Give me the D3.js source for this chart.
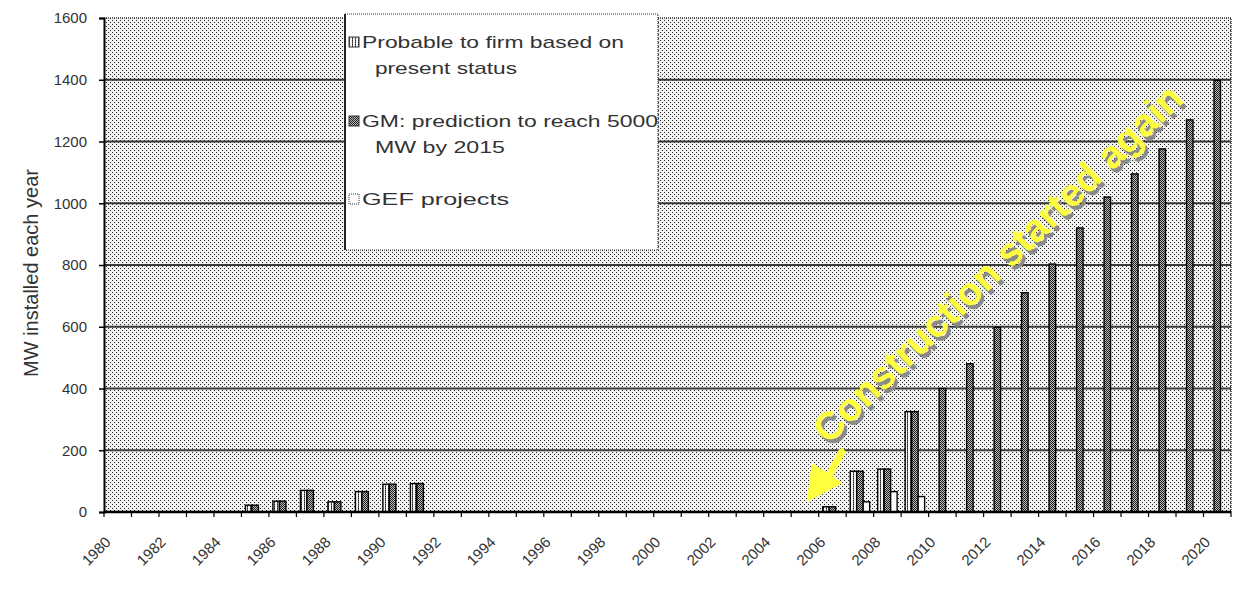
<!DOCTYPE html>
<html>
<head>
<meta charset="utf-8">
<script src="https://cdn.jsdelivr.net/npm/d3@7"></script>
<style>
  body { margin: 0; background: #fff; }
  svg { display: block; font-family: "Liberation Sans", Arial, sans-serif; }
</style>
</head>
<body>
<svg id="chart" width="1241" height="590"></svg>
<script>
// ---- data -------------------------------------------------------------
const years = [1980, 1981, 1982, 1983, 1984, 1985, 1986, 1987, 1988, 1989,
               1990, 1991, 1992, 1993, 1994, 1995, 1996, 1997, 1998, 1999,
               2000, 2001, 2002, 2003, 2004, 2005, 2006, 2007, 2008, 2009,
               2010, 2011, 2012, 2013, 2014, 2015, 2016, 2017, 2018, 2019, 2020];

// MW installed each year
const probable = [0, 0, 0, 0, 0, 22, 35, 70, 33, 66,
                  90, 92, 0, 0, 0, 0, 0, 0, 0, 0,
                  0, 0, 0, 0, 0, 0, 17, 132, 139, 325,
                  0, 0, 0, 0, 0, 0, 0, 0, 0, 0, 0];
const gmPrediction = [0, 0, 0, 0, 0, 22, 35, 70, 33, 66,
                      90, 92, 0, 0, 0, 0, 0, 0, 0, 0,
                      0, 0, 0, 0, 0, 0, 17, 132, 139, 325,
                      400, 480, 598, 710, 803, 920, 1020, 1095, 1176, 1270, 1398];
const gefProjects = [0, 0, 0, 0, 0, 0, 0, 0, 0, 0,
                     0, 0, 0, 0, 0, 0, 0, 0, 0, 0,
                     0, 0, 0, 0, 0, 0, 0, 33, 66, 50,
                     0, 0, 0, 0, 0, 0, 0, 0, 0, 0, 0];

const yTicks = [0, 200, 400, 600, 800, 1000, 1200, 1400, 1600];
const xLabelYears = [1980, 1982, 1984, 1986, 1988, 1990, 1992, 1994, 1996, 1998, 2000,
                     2002, 2004, 2006, 2008, 2010, 2012, 2014, 2016, 2018, 2020];
const legendLines = [
  ["Probable to firm based on", "present status"],
  ["GM: prediction to reach 5000", "MW by 2015"],
  ["GEF projects"]
];
const yTitle = "MW installed each year";
const annotationText = "Construction started again";
const annotationYear = 2006;

// ---- layout -----------------------------------------------------------
const plot = { left: 104, right: 1231, top: 18, bottom: 512 };
const svg = d3.select("#chart");
const defs = svg.append("defs");

// plot-area texture
const dots = defs.append("pattern").attr("id", "dots")
  .attr("width", 4).attr("height", 4).attr("patternUnits", "userSpaceOnUse");
dots.append("rect").attr("width", 4).attr("height", 4).attr("fill", "#f2f2f2");
dots.append("rect").attr("x", 0).attr("y", 0).attr("width", 1).attr("height", 1).attr("fill", "#222");
dots.append("rect").attr("x", 2).attr("y", 2).attr("width", 1).attr("height", 1).attr("fill", "#222");

// series fills
const stripe = defs.append("pattern").attr("id", "stripe")
  .attr("width", 3).attr("height", 2).attr("patternUnits", "userSpaceOnUse");
stripe.append("rect").attr("width", 3).attr("height", 2).attr("fill", "#f4f4f4");
stripe.append("rect").attr("x", 1).attr("width", 1).attr("height", 1).attr("fill", "#222");
stripe.append("rect").attr("x", 1).attr("y", 1).attr("width", 1).attr("height", 1).attr("fill", "#666");

const checker = defs.append("pattern").attr("id", "checker")
  .attr("width", 2).attr("height", 2).attr("patternUnits", "userSpaceOnUse");
checker.append("rect").attr("width", 2).attr("height", 2).attr("fill", "#bdbdbd");
checker.append("rect").attr("width", 1).attr("height", 1).attr("fill", "#1e1e1e");
checker.append("rect").attr("x", 1).attr("y", 1).attr("width", 1).attr("height", 1).attr("fill", "#1e1e1e");

const seriesFill = ["url(#stripe)", "url(#checker)", "#ffffff"];
const series = [probable, gmPrediction, gefProjects];

const x = d3.scaleBand().domain(years).range([plot.left, plot.right]);
const xs = d3.scaleBand().domain([0, 1, 2]).range([0, x.bandwidth()]).paddingOuter(0.62);
const y = d3.scaleLinear().domain([0, 1600]).range([plot.bottom, plot.top]);

// background
svg.append("rect")
  .attr("x", plot.left).attr("y", plot.top)
  .attr("width", plot.right - plot.left).attr("height", plot.bottom - plot.top)
  .attr("fill", "url(#dots)");

// gridlines
svg.append("g").selectAll("line")
  .data(yTicks.filter(d => d > 0 && d < 1600))
  .join("line")
  .attr("x1", plot.left).attr("x2", plot.right)
  .attr("y1", d => y(d)).attr("y2", d => y(d))
  .attr("stroke", "#3a3a3a").attr("stroke-width", 2);

// dotted top and right border of the plot area
svg.append("path")
  .attr("d", `M${plot.left},${y(1600)}H${plot.right}V${plot.bottom}`)
  .attr("fill", "none").attr("stroke", "#333").attr("stroke-width", 1.5)
  .attr("stroke-dasharray", "1,1");

// bars
const barData = [];
series.forEach((vals, s) => vals.forEach((v, i) => { if (v > 0) barData.push({ year: years[i], s, v }); }));
svg.append("g").selectAll("rect")
  .data(barData)
  .join("rect")
  .attr("x", d => x(d.year) + xs(d.s))
  .attr("width", xs.bandwidth())
  .attr("y", d => y(d.v))
  .attr("height", d => y(0) - y(d.v))
  .attr("fill", d => seriesFill[d.s])
  .attr("stroke", "#000").attr("stroke-width", 1.4);

// y axis
const yAxis = svg.append("g")
  .attr("transform", `translate(${plot.left},0)`)
  .call(d3.axisLeft(y).tickValues(yTicks).tickFormat(d3.format("d")).tickSize(5).tickPadding(12));
yAxis.select(".domain").attr("stroke", "#000").attr("stroke-width", 2);
yAxis.selectAll(".tick line").attr("stroke", "#000").attr("stroke-width", 1.5);
yAxis.selectAll(".tick text").attr("font-size", 15).attr("fill", "#333")
  .attr("font-family", "'Liberation Sans', Arial, sans-serif");

// x axis
const xAxisG = svg.append("g").attr("transform", `translate(0,${plot.bottom})`);
xAxisG.append("line").attr("x1", plot.left).attr("x2", plot.right)
  .attr("stroke", "#000").attr("stroke-width", 2.5);
xAxisG.selectAll("line.tk")
  .data(years.concat([null]))
  .join("line").attr("class", "tk")
  .attr("x1", d => d === null ? plot.right : x(d))
  .attr("x2", d => d === null ? plot.right : x(d))
  .attr("y1", 0).attr("y2", 5)
  .attr("stroke", "#000").attr("stroke-width", 1.2);

const xLab = svg.append("g").attr("transform", `translate(0,${plot.bottom})`)
  .call(d3.axisBottom(x).tickValues(xLabelYears).tickSize(0).tickFormat(d3.format("d")));
xLab.select(".domain").remove();
xLab.selectAll(".tick text")
  .attr("x", 0).attr("y", 0).attr("dy", 0)
  .attr("text-anchor", "end")
  .attr("transform", "translate(-6,31) rotate(-45)")
  .attr("font-size", 15).attr("fill", "#333")
  .attr("font-family", "'Liberation Sans', Arial, sans-serif");

// y axis title
svg.append("text")
  .attr("transform", `translate(38,${(plot.top + plot.bottom) / 2 + 8}) rotate(-90)`)
  .attr("text-anchor", "middle")
  .attr("font-size", 20).attr("fill", "#333")
  .text(yTitle);

// legend
const lg = svg.append("g");
lg.append("rect").attr("x", 345).attr("y", 14).attr("width", 313).attr("height", 236)
  .attr("fill", "#fff").attr("stroke", "#333").attr("stroke-width", 1.2)
  .attr("stroke-dasharray", "1,1");
lg.append("line").attr("x1", 345).attr("x2", 345).attr("y1", 14).attr("y2", 250)
  .attr("stroke", "#222").attr("stroke-width", 2);
const legendBase = [48, 127, 205];
const lineWidths = [[262, 142], [296, 130], [147]];
legendLines.forEach((lines, s) => {
  lg.append("rect").attr("x", 349).attr("y", legendBase[s] - 11)
    .attr("width", 10).attr("height", 10)
    .attr("fill", seriesFill[s]).attr("stroke", "#333").attr("stroke-width", 1)
    .attr("stroke-dasharray", s === 2 ? "1,1" : null);
  lines.forEach((t, k) => {
    lg.append("text")
      .attr("x", k === 0 ? 362 : 375)
      .attr("y", legendBase[s] + k * 26)
      .attr("font-size", 17).attr("fill", "#333")
      .attr("textLength", lineWidths[s][k]).attr("lengthAdjust", "spacingAndGlyphs")
      .text(t);
  });
});

// annotation
const ann = svg.append("g");
const tx = 1007, ty = 273, ang = -44;
ann.append("text")
  .attr("transform", `translate(${tx + 3},${ty + 4}) rotate(${ang})`)
  .attr("text-anchor", "middle").attr("font-size", 39).attr("font-weight", "bold")
  .attr("fill", "#8a8a8a").text(annotationText);
ann.append("text")
  .attr("transform", `translate(${tx},${ty}) rotate(${ang})`)
  .attr("text-anchor", "middle").attr("font-size", 39).attr("font-weight", "bold")
  .attr("fill", "#ffff40").text(annotationText);

// arrow toward the first new installation
const tipX = x(annotationYear) - 12, tipY = y(0) - 10;
ann.append("line")
  .attr("x1", tipX + 22).attr("y1", tipY - 26)
  .attr("x2", tipX + 35).attr("y2", tipY - 50)
  .attr("stroke", "#ffff40").attr("stroke-width", 7).attr("stroke-linecap", "round");
ann.append("path")
  .attr("d", `M${tipX},${tipY} L${tipX + 5},${tipY - 39} L${tipX + 36},${tipY - 19} Z`)
  .attr("fill", "#ffff40");
</script>
</body>
</html>
